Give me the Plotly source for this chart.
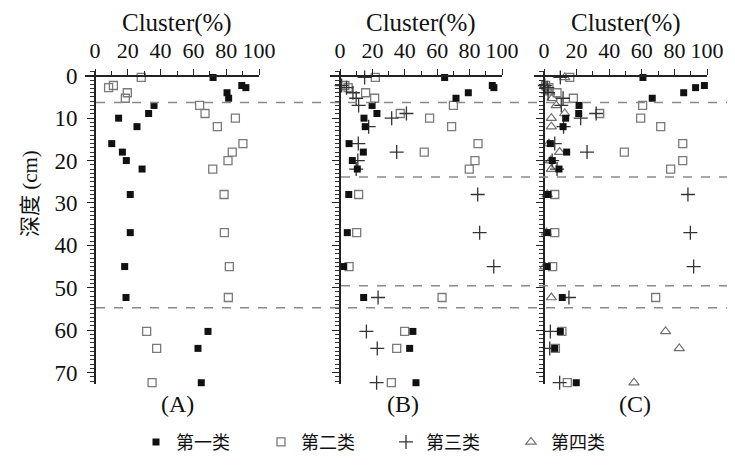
import plotly.graph_objects as go

# ---------------- data ----------------
depth = [0.4, 2.3, 2.8, 4.0, 5.3, 7.0, 8.9, 10.0, 12.0, 16.0, 18.0, 20.0, 22.0,
         28.0, 37.0, 45.0, 52.3, 60.3, 64.3, 72.4]

a_type1 = [72, 89.5, 92, 80.5, 81.5, 36, 32.7, 14.4, 25.6, 10.2, 16.7, 19.1, 28.7,
           21.5, 21.5, 18.1, 18.9, 68.9, 62.8, 64.8]
a_type2 = [28.2, 11.2, 8.3, 19.7, 18.5, 63.8, 67.1, 85.6, 74.6, 90.2, 83.7, 81.1, 71.8,
           78.7, 78.9, 81.9, 81.3, 31.5, 37.6, 34.8]

b_type1 = [64.6, 94, 95, 79.2, 71.6, 19.8, 22.8, 14.8, 15.6, 5.6, 14.4, 7.6, 10.7,
           5.4, 4.5, 2.3, 14.6, 45, 43, 46.9]
b_type2 = [21.8, 3, 5, 15.8, 21.4, 70, 37.2, 55.3, 68.9, 85.2, 52, 83.3, 79.8,
           11.5, 10.3, 5.6, 63, 39.9, 35, 31.7]
b_type3 = [15.2, 1, 4, 8, 10, 11.5, 41, 31.9, 17.7, 11.3, 35, 11, 10,
           85, 86.2, 94.9, 23.5, 16.3, 23, 22.6]

c_type1 = [60.7, 98.4, 93, 85.7, 66.4, 21.5, 21.3, 13.3, 11.7, 3.9, 13.9, 5.1, 9.2,
           2.5, 2, 2, 11.2, 10, 6.6, 19.8]
c_type2 = [15.8, 1, 3, 8, 18, 60.5, 34.2, 59.3, 71.6, 85.1, 49.3, 85.1, 77.7,
           6.6, 6.6, 5.3, 68.5, 11, 7, 14.3]
c_type3 = [10, 0.5, 2, 2.5, 11.7, 10.6, 32, 22.5, 12, 6.6, 26.4, 5, 8,
           88.3, 89.8, 91.8, 15.3, 3.9, 3.5, 9.6]
c_type4 = [12.7, 0.3, 2, 3.5, 5, 7.5, 12.7, 4.5, 4.5, 3, 9.6, 4, 4.5,
           2, 1.5, 0.5, 4.5, 74.6, 83, 55.2]

x_ticks = [0, 20, 40, 60, 80, 100]
y_ticks = [0, 10, 20, 30, 40, 50, 60, 70]
bound_all = [6.3, 54.7]
bound_bc = [23.9, 49.5]
panel_labels = ["(A)", "(B)", "(C)"]
class_names = ["第一类", "第二类", "第三类", "第四类"]
x_title = "Cluster(%)"
y_title = "深度 (cm)"

# ---------------- styles ----------------
W, H = 735, 465
ML, MR, MT, MB = 77, 36, 63, 74
PW = W - ML - MR
PH = H - MT - MB
Y0PX = 68
YPXCM = (379 - 68) / 70.0
y_top = -(Y0PX - MT) / YPXCM
y_bot = (H - MB - Y0PX) / YPXCM
XMIN = -6

serif = "Liberation Serif, Times New Roman, serif"
cjk = "Liberation Serif, Noto Sans CJK SC, serif"

styles = [
    dict(symbol="square", size=7, color="#111111", lw=0),
    dict(symbol="square-open", size=8, color="#7a7a7a", lw=1.3),
    dict(symbol="cross-thin-open", size=10, color="#333333", lw=1.3),
    dict(symbol="triangle-up-open", size=9, color="#707070", lw=1.2),
]

# pixel positions of the 0 and 100 ticks per panel
panel_px = [(87, 251), (332, 494), (536, 699)]

fig = go.Figure()

panels = [
    [a_type1, a_type2, None, None],
    [b_type1, b_type2, b_type3, None],
    [c_type1, c_type2, c_type3, c_type4],
]
draw_order = [3, 1, 2, 0]
shown = set()
for p, series in enumerate(panels):
    xa = "x" if p == 0 else f"x{p+1}"
    ya = "y" if p == 0 else f"y{p+1}"
    for k in draw_order:
        vals = series[k]
        if vals is None:
            continue
        st = styles[k]
        fig.add_trace(go.Scatter(
            x=vals, y=depth, mode="markers", xaxis=xa, yaxis=ya,
            name=class_names[k], legendgroup=class_names[k],
            showlegend=(k not in shown), legendrank=k + 1,
            cliponaxis=False,
            marker=dict(symbol=st["symbol"], size=st["size"], color=st["color"],
                        line=dict(width=st["lw"], color=st["color"])),
        ))
        shown.add(k)

layout = dict(
    width=W, height=H, margin=dict(l=ML, r=MR, t=MT, b=MB),
    paper_bgcolor="white", plot_bgcolor="white",
    showlegend=True,
    legend=dict(orientation="h", x=(128 - ML) / PW, xanchor="left",
                y=(H - MB - 452) / PH, yanchor="middle",
                font=dict(family="Noto Sans CJK SC", size=18, color="#111"),
                entrywidth=80, entrywidthmode="pixels", itemsizing="trace",
                bgcolor="rgba(0,0,0,0)"),
)

xpos = (H - MB - Y0PX) / PH
for p, (x0, x100) in enumerate(panel_px):
    s = (x100 - x0) / 100.0
    d0 = ((x0 + XMIN * s) - ML) / PW
    d1 = (x100 - ML) / PW
    yaxpos = d0 + (d1 - d0) * (-XMIN) / (100 - XMIN)
    xkey = "xaxis" if p == 0 else f"xaxis{p+1}"
    ykey = "yaxis" if p == 0 else f"yaxis{p+1}"
    layout[xkey] = dict(
        domain=[d0, d1], range=[XMIN, 100], side="top", anchor="free", position=xpos,
        tickvals=x_ticks, ticks="outside", ticklen=6, tickwidth=1.3, tickcolor="#222",
        minor=dict(dtick=10, tick0=0, ticks="outside", ticklen=4, tickwidth=1.2, tickcolor="#222"),
        showline=True, linecolor="#222", linewidth=1.6, showgrid=False, zeroline=False,
        tickfont=dict(family=serif, size=22, color="#111"), ticklabelstandoff=2,
    )
    layout[ykey] = dict(
        domain=[0, 1], range=[y_bot, y_top], anchor="free", position=yaxpos,
        tickvals=y_ticks, ticks="outside", ticklen=7, tickwidth=1.3, tickcolor="#222",
        minor=dict(dtick=1, tick0=0, ticks="outside", ticklen=4, tickwidth=1, tickcolor="#333"),
        showline=True, linecolor="#222", linewidth=1.6, showgrid=False, zeroline=False,
        showticklabels=(p == 0),
        tickfont=dict(family=serif, size=23, color="#111"), ticklabelstandoff=5,
    )

fig.update_layout(**layout)

# boundary lines
xend = (W - ML) / PW
for b in bound_all:
    fig.add_shape(type="line", xref="paper", yref="y", x0=(88 - ML) / PW, x1=xend, y0=b, y1=b,
                  line=dict(color="#8a8a8a", width=1.5, dash="dash"))
for b in bound_bc:
    fig.add_shape(type="line", xref="paper", yref="y", x0=(333 - ML) / PW, x1=xend, y0=b, y1=b,
                  line=dict(color="#8a8a8a", width=1.5, dash="dash"))

# titles and panel labels
label_x = [50, 39, 56]
for p in range(3):
    xr = "x" if p == 0 else f"x{p+1}"
    fig.add_annotation(text=x_title, xref=xr, yref="paper", x=50, y=(H - MB - 13) / PH,
                       showarrow=False, xanchor="center", yanchor="middle",
                       font=dict(family=serif, size=25, color="#111"))
    fig.add_annotation(text=panel_labels[p], xref=xr, yref="paper", x=label_x[p],
                       y=(H - MB - 412) / PH, showarrow=False, xanchor="center",
                       yanchor="middle", font=dict(family=serif, size=24, color="#111"))

fig.add_annotation(text=y_title, xref="paper", yref="paper", x=(22 - ML) / PW,
                   y=(H - MB - 192) / PH, showarrow=False, textangle=-90,
                   xanchor="center", yanchor="middle",
                   font=dict(family=cjk, size=21, color="#111"))

fig.write_html("out.html")
